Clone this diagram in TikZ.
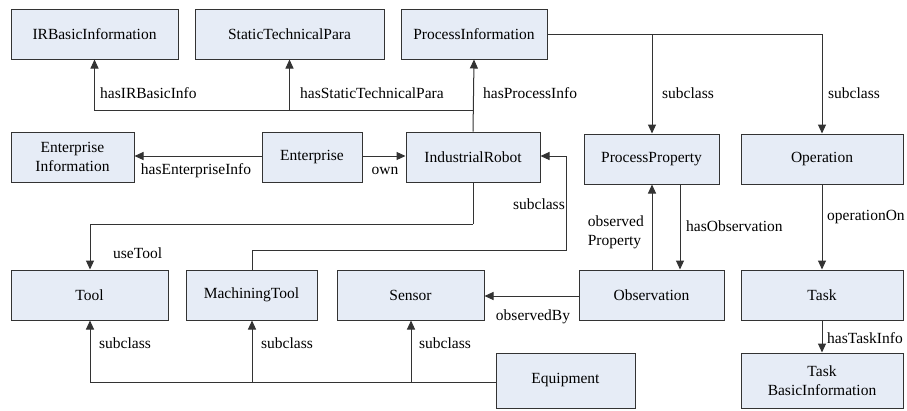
\documentclass[tikz,border=0pt]{standalone}
\usepackage{fontspec}
\setmainfont{Liberation Serif}
\usetikzlibrary{arrows.meta}
\definecolor{boxfill}{HTML}{E6ECF6}
\definecolor{linec}{HTML}{333333}
\begin{document}
\begin{tikzpicture}[x=1pt,y=-1pt,
  box/.style={draw=linec,fill=boxfill,line width=1pt,inner sep=0pt,align=center,
    font=\fontsize{15.5}{19}\selectfont},
  lbl/.style={inner sep=0pt,font=\fontsize{15.5}{19}\selectfont,align=left},
  conn/.style={draw=linec,line width=1pt},
  arr/.style={conn,-{Triangle[length=9pt,width=8pt]}}]
\useasboundingbox (0,0) rectangle (907,410);
% boxes
\node[box,minimum width=167pt,minimum height=50pt] (irb) at (94.5,34) {IRBasicInformation};
\node[box,minimum width=189pt,minimum height=50pt] (stp) at (289.5,34) {StaticTechnicalPara};
\node[box,minimum width=146pt,minimum height=50pt] (pinf) at (474,34) {ProcessInformation};
\node[box,minimum width=123pt,minimum height=50pt] (entinf) at (72.5,157) {Enterprise\\Information};
\node[box,minimum width=100pt,minimum height=50pt] (ent) at (312,157) {Enterprise};
\node[box,minimum width=134pt,minimum height=50pt] (ir) at (473,157) {IndustrialRobot};
\node[box,minimum width=135pt,minimum height=50pt] (pp) at (651.5,159) {ProcessProperty};
\node[box,minimum width=162pt,minimum height=50pt] (op) at (822,159) {Operation};
\node[box,minimum width=157pt,minimum height=50pt] (tool) at (89.5,295) {Tool};
\node[box,minimum width=131pt,minimum height=50pt] (mt) at (251.5,295) {MachiningTool};
\node[box,minimum width=147pt,minimum height=50pt] (sen) at (410.5,295) {Sensor};
\node[box,minimum width=145pt,minimum height=50pt] (obs) at (651.5,295) {Observation};
\node[box,minimum width=162pt,minimum height=50pt] (task) at (822,295) {Task};
\node[box,minimum width=162pt,minimum height=55pt] (tbi) at (822,380.5) {Task\\BasicInformation};
\node[box,minimum width=139pt,minimum height=55pt] (equip) at (565.5,380.5) {Equipment};
% junction coordinates
\coordinate (j1) at (473,110);
\coordinate (j2) at (652,34);
\coordinate (j3) at (822,34);
\coordinate (j4) at (473,224);
\coordinate (j5) at (252,250);
\coordinate (j6) at (566,250);
\coordinate (j7) at (566,156);
\coordinate (j8) at (90,382);
% connectors
\draw[arr] (ir.north) -- (pinf.south);
\draw[arr] (j1) -| (irb.south);
\draw[arr] (j1 -| stp.south) -- (stp.south);
\draw[arr] (ent.west |- 0,156) -- (entinf.east |- 0,156);
\draw[arr] (ent.east |- 0,156) -- (ir.west |- 0,156);
\draw[conn] (pinf.east) -- (j3);
\draw[arr] (j3) -- (op.north);
\draw[arr] (j2) -- (pp.north -| j2);
\draw[conn] (ir.south) -- (j4);
\draw[arr] (j4) -| (tool.north -| j8);
\draw[arr] (mt.north -| j5) -- (j5) -- (j6) -- (j7) -- (ir.east |- j7);
\draw[arr] (obs.north -| j2) -- (pp.south -| j2);
\draw[arr] (pp.south -| 680,0) -- (obs.north -| 680,0);
\draw[arr] (obs.west |- 0,296) -- (sen.east |- 0,296);
\draw[arr] (op.south) -- (task.north);
\draw[arr] (task.south) -- (tbi.north);
\draw[conn] (equip.west |- j8) -- (j8);
\draw[arr] (j8) -- (tool.south -| j8);
\draw[arr] (j8 -| j5) -- (mt.south -| j5);
\draw[arr] (411,382) -- (sen.south -| 411,0);
% labels
\node[lbl,anchor=west] (l1) at (100,93) {hasIRBasicInfo};
\node[lbl,anchor=west] (l2) at (300,93) {hasStaticTechnicalPara};
\node[lbl,anchor=west] (l3) at (483,93) {hasProcessInfo};
\node[lbl,anchor=west] (l4) at (662,93) {subclass};
\node[lbl,anchor=west] (l5) at (828,93) {subclass};
\node[lbl] (l6) at (196,171) {hasEnterpriseInfo};
\node[lbl] (l7) at (385,171) {own};
\node[lbl,anchor=east] (l8) at (565,204) {subclass};
\node[lbl,anchor=west] (l9) at (113,253) {useTool};
\node[lbl,anchor=east,align=left] (l10) at (644,232) {observed\\Property};
\node[lbl,anchor=west] (l11) at (686,226) {hasObservation};
\node[lbl,anchor=west] (l12) at (827,217) {operationOn};
\node[lbl] (l13) at (533,317) {observedBy};
\node[lbl,anchor=west] (l14) at (827,338) {hasTaskInfo};
\node[lbl,anchor=west] (l15) at (99,343) {subclass};
\node[lbl,anchor=west] (l16) at (261,343) {subclass};
\node[lbl,anchor=west] (l17) at (419,343) {subclass};
\end{tikzpicture}
\end{document}
